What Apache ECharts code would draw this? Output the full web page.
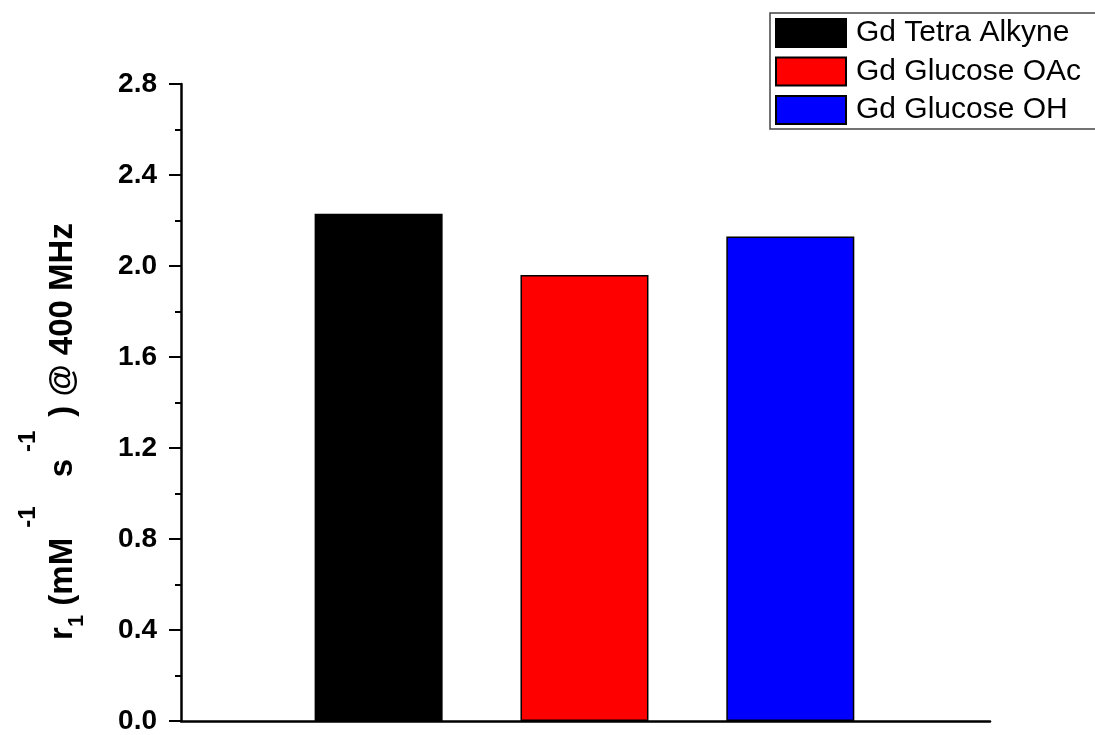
<!DOCTYPE html>
<html>
<head>
<meta charset="utf-8">
<script src="https://cdn.jsdelivr.net/npm/echarts@6/dist/echarts.min.js"></script>
<style>
html,body{margin:0;padding:0;background:#fff;}
#chart{width:1095px;height:735px;}
</style>
</head>
<body>
<div id="chart"></div>
<script>
// Data
const seriesNames = ['Gd Tetra Alkyne', 'Gd Glucose OAc', 'Gd Glucose OH'];
const seriesValues = [2.23, 1.96, 2.13];
const barPositions = [1, 2, 3];
const seriesColors = ['#000000', '#ff0000', '#0000ff'];
const yTickLabels = ['0.0', '0.4', '0.8', '1.2', '1.6', '2.0', '2.4', '2.8'];

const FONT = '"Liberation Sans", Arial, sans-serif';

const chart = echarts.init(document.getElementById('chart'), null, {renderer: 'canvas'});

const series = seriesNames.map((name, i) => ({
  name: name,
  type: 'bar',
  barWidth: 128,
  barGap: '-100%',
  data: [[barPositions[i], seriesValues[i]]],
  itemStyle: {color: seriesColors[i], borderColor: '#000', borderWidth: 1.5},
  emphasis: {disabled: true}
}));

const option = {
  backgroundColor: '#ffffff',
  animation: false,
  grid: {left: 181, right: 105, top: 84, bottom: 13, containLabel: false},
  legend: {
    orient: 'vertical',
    left: 770,
    top: 13,
    data: seriesNames,
    icon: 'rect',
    itemWidth: 70,
    itemHeight: 28,
    itemGap: 8.5,
    padding: [5, 20, 4, 5],
    borderColor: '#444',
    borderWidth: 1.5,
    selectedMode: false,
    textStyle: {fontFamily: FONT, fontSize: 30, color: '#000', padding: [0, 0, 0, 5]}
  },
  xAxis: {
    type: 'value',
    min: 0.04,
    max: 3.97,
    axisLine: {show: true, onZero: false, lineStyle: {color: '#000', width: 2.5}},
    axisTick: {show: false},
    axisLabel: {show: false},
    splitLine: {show: false}
  },
  yAxis: {
    type: 'value',
    min: 0,
    max: 2.8,
    interval: 0.4,
    axisLine: {show: true, lineStyle: {color: '#000', width: 2.5}},
    axisTick: {show: true, length: 12, lineStyle: {color: '#000', width: 2}},
    minorTick: {show: true, splitNumber: 2, length: 6, lineStyle: {color: '#000', width: 2}},
    splitLine: {show: false},
    axisLabel: {
      margin: 24,
      fontFamily: FONT,
      fontSize: 28,
      fontWeight: 'bold',
      color: '#000',
      formatter: function (v) {
        const idx = Math.round(v / 0.4);
        return yTickLabels[idx] !== undefined ? yTickLabels[idx] : v.toFixed(1);
      }
    },
    name: '{m|r}{sub|1}{m| (mM}{sup|-1}{m| s}{sup2|-1}{m|) @ 400 MHz}',
    nameLocation: 'middle',
    nameGap: 93.5,
    nameTextStyle: {
      padding: [0, 58, 0, 0],
      rich: {
        m: {fontFamily: FONT, fontSize: 33, fontWeight: 'bold', color: '#000', verticalAlign: 'bottom', padding: [0, 0, 8, 0]},
        sub: {fontFamily: FONT, fontSize: 22, fontWeight: 'bold', color: '#000', verticalAlign: 'bottom'},
        sup: {fontFamily: FONT, fontSize: 24, fontWeight: 'bold', color: '#000', verticalAlign: 'bottom', padding: [0, 20, 47, 10]},
        sup2: {fontFamily: FONT, fontSize: 24, fontWeight: 'bold', color: '#000', verticalAlign: 'bottom', padding: [0, 14, 47, 7]}
      }
    }
  },
  series: series
};

chart.setOption(option);
</script>
</body>
</html>
